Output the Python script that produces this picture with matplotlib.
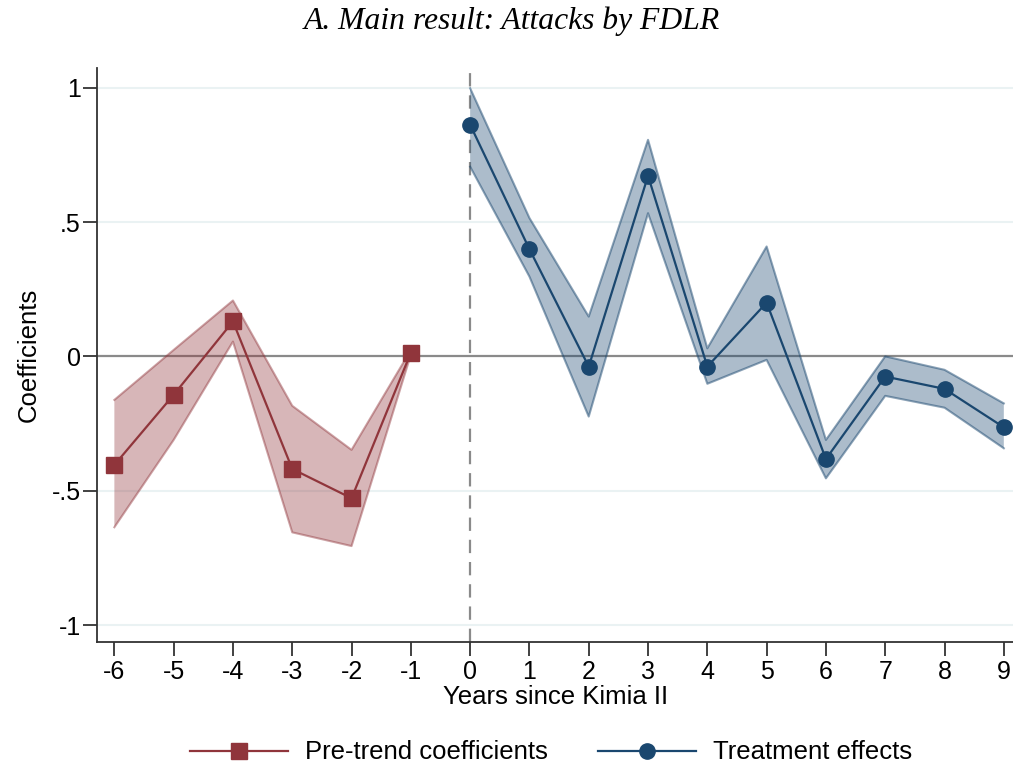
import numpy as np
import matplotlib.pyplot as plt
from matplotlib.lines import Line2D

# pre-trend (event years -6..-1)
pre_x = [-6, -5, -4, -3, -2, -1]
pre_b = [-0.404, -0.143, 0.130, -0.419, -0.528, 0.014]
pre_hi = [-0.162, 0.024, 0.208, -0.184, -0.348, 0.024]
pre_lo = [-0.636, -0.311, 0.055, -0.655, -0.706, 0.006]

# treatment effects (event years 0..9)
post_x = [0, 1, 2, 3, 4, 5, 6, 7, 8, 9]
post_b = [0.862, 0.399, -0.038, 0.672, -0.038, 0.200, -0.382, -0.075, -0.121, -0.264]
post_hi = [0.998, 0.515, 0.148, 0.806, 0.030, 0.409, -0.311, 0.0, -0.050, -0.175]
post_lo = [0.706, 0.297, -0.224, 0.533, -0.102, -0.013, -0.454, -0.147, -0.191, -0.342]

xticks = list(range(-6, 10))
yticks = [-1, -0.5, 0, 0.5, 1]
ylabels = ["-1", "-.5", "0", ".5", "1"]

red = "#90353b"
navy = "#1a476f"

plt.rcParams['font.family'] = ['Liberation Sans', 'DejaVu Sans']

fig = plt.figure(figsize=(10.13, 7.71), dpi=100)
ax = fig.add_axes([0.0961, 0.1677, 0.9039, 0.7445])

#----------------grid and reference lines----------------
for yv in yticks:
    ax.axhline(yv, color="#eaf2f3", lw=1.5, zorder=0)
ax.axhline(0, color="#8a8a8a", lw=1.6, zorder=1)
ax.axvline(0, color="#8a8a8a", lw=1.6, ls=(0, (6, 4)), zorder=1)

#----------------bands----------------
ax.fill_between(pre_x, pre_lo, pre_hi, facecolor=red, alpha=0.36, edgecolor="none", zorder=2)
ax.plot(pre_x, pre_hi, color=red, alpha=0.45, lw=1.5, zorder=2)
ax.plot(pre_x, pre_lo, color=red, alpha=0.45, lw=1.5, zorder=2)
ax.fill_between(post_x, post_lo, post_hi, facecolor=navy, alpha=0.36, edgecolor="none", zorder=2)
ax.plot(post_x, post_hi, color=navy, alpha=0.5, lw=1.5, zorder=2)
ax.plot(post_x, post_lo, color=navy, alpha=0.5, lw=1.5, zorder=2)

#----------------point estimates----------------
ax.plot(pre_x, pre_b, color=red, lw=1.6, marker="s", ms=11, zorder=3)
ax.plot(post_x, post_b, color=navy, lw=1.6, marker="o", ms=11, zorder=3)

ax.set_xlim(-6.287, 9.155)
ax.set_ylim(-1.062, 1.0745)
ax.set_xticks(xticks)
ax.set_xticklabels([str(t) for t in xticks])
ax.set_yticks(yticks)
ax.set_yticklabels(ylabels)
ax.tick_params(axis="both", labelsize=18, length=10, width=1.3, color="#333333", pad=2)
ax.tick_params(axis="x", pad=3)

for s in ["top", "right"]:
    ax.spines[s].set_visible(False)
for s in ["left", "bottom"]:
    ax.spines[s].set_linewidth(1.3)
    ax.spines[s].set_color("#333333")

ax.set_xlabel("Years since Kimia II", fontsize=18.5, labelpad=1)
ax.set_ylabel("Coefficients", fontsize=18.5, labelpad=8)

fig.text(0.505, 0.972, "A. Main result: Attacks by FDLR", ha="center", va="center",
         fontsize=22.8, family="Liberation Serif", style="italic")

handles = [Line2D([], [], color=red, lw=1.6, marker="s", ms=11),
           Line2D([], [], color=navy, lw=1.6, marker="o", ms=11)]
fig.legend(handles, ["Pre-trend coefficients", "Treatment effects"], loc="center",
           bbox_to_anchor=(0.544, 0.024), ncol=2, frameon=False, fontsize=18.5,
           handlelength=3.8, columnspacing=1.95, handletextpad=0.66)

fig.savefig("out.png", dpi=100)
